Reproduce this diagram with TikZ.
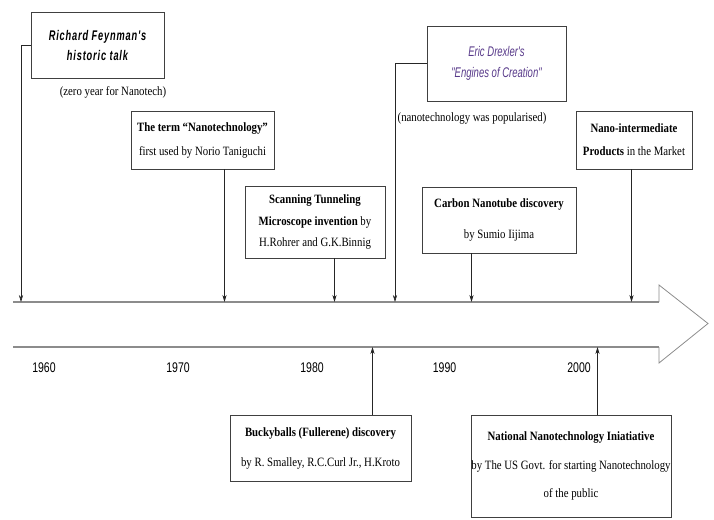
\documentclass[tikz,border=0pt]{standalone}
\usepackage{fontspec}
\setmainfont{Liberation Serif}[FakeStretch=0.85]
\newfontfamily\condsans[FakeStretch=0.66,LetterSpace=6]{Liberation Sans}
\newfontfamily\drexsans[FakeStretch=0.68]{Liberation Sans}
\newfontfamily\yearsans[FakeStretch=0.75]{Liberation Sans}
\usetikzlibrary{arrows.meta}
\definecolor{drexpurple}{RGB}{88,58,138}
\tikzset{
  box/.style={draw=black!75, line width=0.9pt, inner sep=0pt, align=center, fill=white},
  tick/.style={-{Stealth[length=7pt,width=4.2pt]}, line width=0.6pt, draw=black!85},
  mainline/.style={draw=black!45, line width=1.8pt},
  headline/.style={draw=black!45, line width=0.8pt, line join=miter},
  yr/.style={font={\yearsans\fontsize{14}{16}\selectfont}, inner sep=0pt},
  note/.style={font={\fontsize{12.7}{13}\selectfont}, inner sep=0pt}
}
\begin{document}
\begin{tikzpicture}[x=1pt,y=-1pt]
\useasboundingbox (0,0) rectangle (714,519);
% main hollow arrow
\draw[mainline] (13,302) -- (659,302);
\draw[mainline] (13,347) -- (659,347);
\draw[headline] (659,302) -- (659,285) -- (708,323.5) -- (659,363) -- (659,347);
% attachment points on the arrow
\coordinate (t1) at (21,302);
\coordinate (t2) at (224.5,302);
\coordinate (t3) at (334.5,302);
\coordinate (t4) at (395,302);
\coordinate (t5) at (471.5,302);
\coordinate (t6) at (631.5,302);
\coordinate (b1) at (372.5,347);
\coordinate (b2) at (597.5,347);
% years
\node[yr] (y1960) at (44,368) {1960};
\node[yr] (y1970) at (178,368) {1970};
\node[yr] (y1980) at (312,368) {1980};
\node[yr] (y1990) at (444.5,368) {1990};
\node[yr] (y2000) at (579,368) {2000};
% boxes above
\node[box, minimum width=133pt, minimum height=66pt,
      font={\condsans\bfseries\itshape\fontsize{14}{20}\selectfont}]
  (feyn) at (97.5,45) {Richard Feynman's\\historic talk};
\node[note] (zero) at (113,92) {(zero year for Nanotech)};
\node[box, minimum width=143pt, minimum height=58pt,
      font={\fontsize{12.7}{24}\selectfont}]
  (term) at (202.5,140) {\textbf{The term “Nanotechnology”}\\first used by Norio Taniguchi};
\node[box, minimum width=140pt, minimum height=72pt,
      font={\fontsize{12.7}{21.5}\selectfont}]
  (stm) at (315,222) {\textbf{Scanning Tunneling}\\\textbf{Microscope invention} by\\H.Rohrer and G.K.Binnig};
\node[box, minimum width=139pt, minimum height=75pt, text=drexpurple,
      font={\drexsans\itshape\fontsize{14}{21}\selectfont}]
  (drex) at (496.5,63.5) {Eric Drexler's\\"Engines of Creation"};
\node[note] (popular) at (472,118) {(nanotechnology was popularised)};
\node[box, minimum width=154pt, minimum height=66pt,
      font={\fontsize{12.7}{31}\selectfont}]
  (cnt) at (499,220) {\textbf{Carbon Nanotube discovery}\\by Sumio Iijima};
\node[box, minimum width=116pt, minimum height=58pt,
      font={\fontsize{12.7}{23}\selectfont}]
  (nim) at (634,140) {\textbf{Nano-intermediate}\\\textbf{Products} in the Market};
% boxes below
\node[box, minimum width=181pt, minimum height=66pt,
      font={\fontsize{12.7}{30}\selectfont}]
  (bucky) at (320.5,448) {\textbf{Buckyballs (Fullerene) discovery}\\by R. Smalley, R.C.Curl Jr., H.Kroto};
\node[box, minimum width=200pt, minimum height=102pt,
      font={\fontsize{12.7}{28.5}\selectfont}]
  (nni) at (571,466) {\textbf{National Nanotechnology Iniatiative}\\by The US Govt. for starting Nanotechnology\\of the public};
% connectors
\draw[tick] (feyn.west) -| (t1);
\draw[tick] (term.south -| t2) -- (t2);
\draw[tick] (stm.south -| t3) -- (t3);
\draw[tick] (drex.west) -| (t4);
\draw[tick] (cnt.south -| t5) -- (t5);
\draw[tick] (nim.south -| t6) -- (t6);
\draw[tick] (bucky.north -| b1) -- (b1);
\draw[tick] (nni.north -| b2) -- (b2);
\end{tikzpicture}
\end{document}
